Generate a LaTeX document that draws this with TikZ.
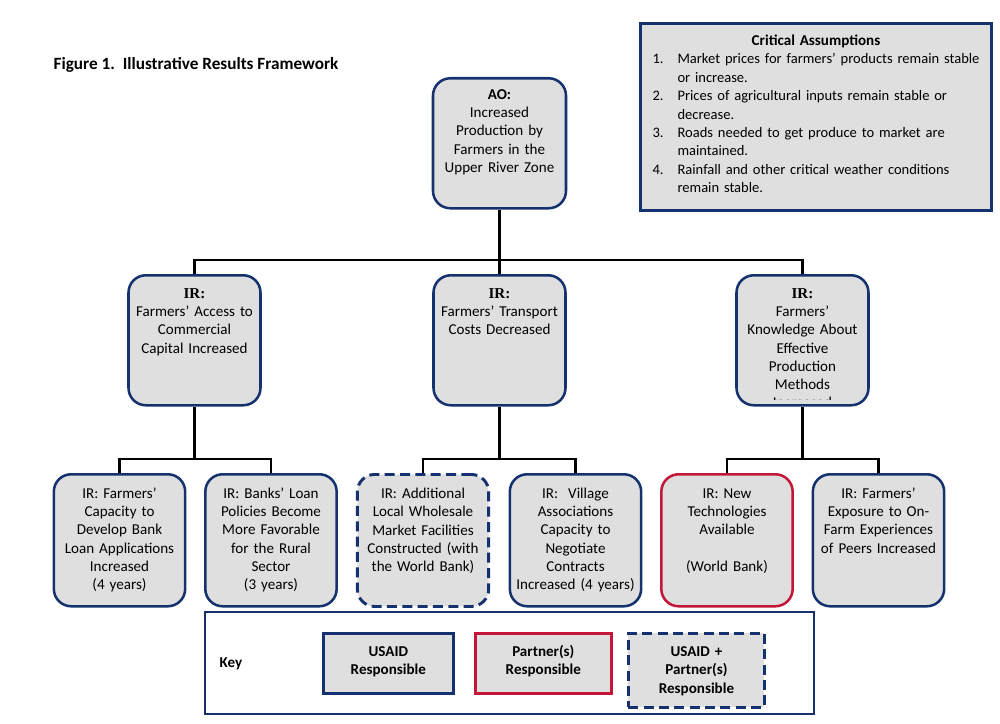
\documentclass[tikz,border=0pt]{standalone}
\usepackage{fontspec}
\setmainfont{Carlito}
\newfontfamily\irserif{Liberation Serif}
\definecolor{usnavy}{RGB}{22,50,110}
\definecolor{usred}{RGB}{196,22,56}
\definecolor{boxfill}{RGB}{223,223,223}
\newcommand\boxfont{\fontsize{11.3pt}{13.75pt}\selectfont}
\newcommand\listfont{\fontsize{10.9pt}{13.8pt}\selectfont}
\newcommand\irtag{{\irserif\bfseries IR:}}

\begin{document}
\begin{tikzpicture}[x=0.75pt,y=-0.75pt,
  resultbox/.style={draw=usnavy, line width=1.9pt, fill=boxfill, rounded corners=13pt,
    inner sep=0pt, align=center, anchor=north, font=\boxfont},
  upper/.style={text width=99pt, text height=17.25pt, text depth=80.25pt},
  lower/.style={text width=98.5pt, text height=18pt, text depth=81pt},
  partner/.style={draw=usred},
  shared/.style={dash pattern=on 7.5pt off 4pt, line width=2.2pt},
  link/.style={draw=black, line width=1.9pt},
  keybox/.style={draw=usnavy, line width=2pt, fill=boxfill, inner sep=0pt, align=center,
    anchor=north west, font=\boxfont\bfseries, text height=17.25pt}]
\useasboundingbox (0,0) rectangle (1000,724);

% heading
\node[anchor=base west, font=\fontsize{12.9pt}{15pt}\selectfont\bfseries] (title) at (49,69.5)
  {Figure 1.\ \ Illustrative Results Framework};

% assumptions panel
\node[draw=usnavy, line width=2.3pt, fill=boxfill, anchor=north west, inner xsep=9pt,
  inner ysep=0pt, text width=245.25pt, text height=16.5pt, text depth=123.75pt,
  align=left, font=\listfont] (crit) at (639,22)
  {\makebox[245.25pt]{\fontsize{11.3pt}{13.8pt}\selectfont\bfseries Critical Assumptions}\\
   \hyphenpenalty=10000
   \begin{tabular}[t]{@{}p{18.75pt}@{}p{250pt}@{}}
   1. & Market prices for farmers' products remain stable\newline or increase.\\
   2. & Prices of agricultural inputs remain stable or\newline decrease.\\
   3. & Roads needed to get produce to market are\newline maintained.\\
   4. & Rainfall and other critical weather conditions\newline remain stable.
   \end{tabular}};

% objective
\node[resultbox, text width=99.75pt, text height=15.75pt, text depth=81.75pt] (ao) at (499.5,77)
  {\textbf{AO:}\\Increased\\Production by\\Farmers in the\\Upper River Zone};

% intermediate results
\node[resultbox, upper] (ir1) at (194.5,274)
  {\irtag\\Farmers' Access to\\Commercial\\Capital Increased};
\node[resultbox, upper] (ir2) at (499.5,274)
  {\irtag\\Farmers' Transport\\Costs Decreased};
\node[resultbox, upper] (ir3) at (802.5,274)
  {\irtag\\Farmers'\\Knowledge About\\Effective\\Production\\Methods};
\begin{scope}
  \clip (737,300) rectangle (868,399.5);
  \node[anchor=base, font=\boxfont] (ir3tail) at (802.5,407) {Increased};
\end{scope}

% sub-results
\node[resultbox, lower] (b1) at (119.5,473)
  {IR: Farmers'\\Capacity to\\Develop Bank\\Loan Applications\\Increased\\(4 years)};
\node[resultbox, lower] (b2) at (271,473)
  {IR: Banks' Loan\\Policies Become\\More Favorable\\for the Rural\\Sector\\(3 years)};
\node[resultbox, lower, shared] (b3) at (423,473)
  {IR: Additional\\Local Wholesale\\Market Facilities\\Constructed (with\\the World Bank)};
\node[resultbox, lower] (b4) at (575.5,473)
  {IR:\ \ Village\\Associations\\Capacity to\\Negotiate\\Contracts\\Increased (4 years)};
\node[resultbox, lower, partner] (b5) at (727,473)
  {IR: New\\Technologies\\Available\\\mbox{}\\(World Bank)};
\node[resultbox, lower] (b6) at (878.5,473)
  {IR: Farmers'\\Exposure to On-\\Farm Experiences\\of Peers Increased};

% connectors
\coordinate (busA) at (499.5,260);
\coordinate (bus1) at (194.5,459);
\coordinate (bus2) at (499.5,459);
\coordinate (bus3) at (802.5,459);
\draw[link] (ao.south) -- (busA);
\draw[link] (busA) -| (ir1.north);
\draw[link] (busA) -| (ir3.north);
\draw[link] (busA) -- (ir2.north);
\draw[link] (ir1.south) -- (bus1);
\draw[link] (bus1) -| (b1.north);
\draw[link] (bus1) -| (b2.north);
\draw[link] (ir2.south) -- (bus2);
\draw[link] (bus2) -| (b3.north);
\draw[link] (bus2) -| (b4.north);
\draw[link] (ir3.south) -- (bus3);
\draw[link] (bus3) -| (b5.north);
\draw[link] (bus3) -| (b6.north);

% key
\node[draw=usnavy, line width=1.6pt, anchor=north west, minimum width=456.75pt,
  minimum height=76.5pt, inner sep=0pt] (keyframe) at (204,611) {};
\node[anchor=west, font=\boxfont\bfseries] (keylabel) at (215,664) {Key};
\node[keybox, text width=97.5pt, text depth=27.75pt] (k1) at (322,632)
  {USAID\\Responsible};
\node[keybox, draw=usred, text width=102pt, text depth=27.75pt] (k2) at (474,632)
  {Partner(s)\\Responsible};
\node[keybox, shared, text width=102pt, text depth=38.25pt] (k3) at (627,632)
  {USAID +\\Partner(s)\\Responsible};
\end{tikzpicture}
\end{document}
